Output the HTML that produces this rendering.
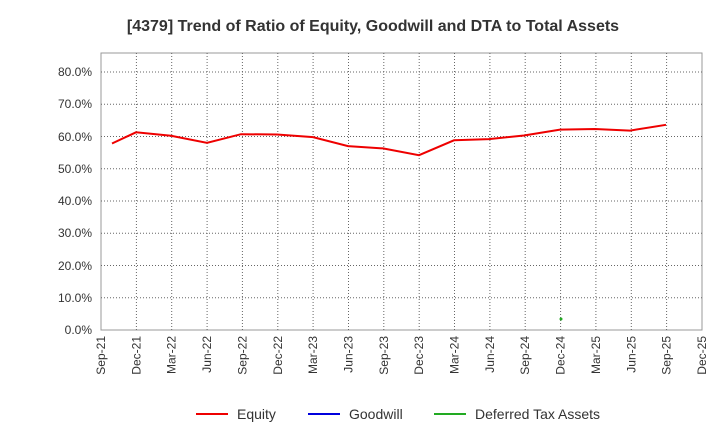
<!DOCTYPE html>
<html><head><meta charset="utf-8"><style>body{margin:0;background:#fff}svg{display:block}</style></head><body>
<svg width="720" height="440" xmlns="http://www.w3.org/2000/svg" font-family="Liberation Sans, sans-serif">
<text x="373" y="31" text-anchor="middle" font-size="16" font-weight="bold" fill="#333">[4379]  Trend of Ratio of Equity, Goodwill and DTA to Total Assets</text>
<rect x="101" y="53" width="601" height="277" fill="#fff" stroke="#999"/>
<g stroke="#666" stroke-dasharray="1,2" stroke-width="1">
<line x1="101" x2="702" y1="297.7" y2="297.7"/><line x1="101" x2="702" y1="265.5" y2="265.5"/><line x1="101" x2="702" y1="233.2" y2="233.2"/><line x1="101" x2="702" y1="201" y2="201"/><line x1="101" x2="702" y1="168.7" y2="168.7"/><line x1="101" x2="702" y1="136.5" y2="136.5"/><line x1="101" x2="702" y1="104.2" y2="104.2"/><line x1="101" x2="702" y1="72" y2="72"/>
<line x1="136.4" x2="136.4" y1="53" y2="330"/><line x1="171.7" x2="171.7" y1="53" y2="330"/><line x1="207.1" x2="207.1" y1="53" y2="330"/><line x1="242.4" x2="242.4" y1="53" y2="330"/><line x1="277.8" x2="277.8" y1="53" y2="330"/><line x1="313.1" x2="313.1" y1="53" y2="330"/><line x1="348.5" x2="348.5" y1="53" y2="330"/><line x1="383.8" x2="383.8" y1="53" y2="330"/><line x1="419.2" x2="419.2" y1="53" y2="330"/><line x1="454.5" x2="454.5" y1="53" y2="330"/><line x1="489.9" x2="489.9" y1="53" y2="330"/><line x1="525.2" x2="525.2" y1="53" y2="330"/><line x1="560.6" x2="560.6" y1="53" y2="330"/><line x1="595.9" x2="595.9" y1="53" y2="330"/><line x1="631.3" x2="631.3" y1="53" y2="330"/><line x1="666.6" x2="666.6" y1="53" y2="330"/>
</g>
<g font-size="12" fill="#333" text-anchor="end">
<text x="92" y="334">0.0%</text><text x="92" y="302">10.0%</text><text x="92" y="270">20.0%</text><text x="92" y="237">30.0%</text><text x="92" y="205">40.0%</text><text x="92" y="173">50.0%</text><text x="92" y="141">60.0%</text><text x="92" y="108">70.0%</text><text x="92" y="76">80.0%</text>
</g>
<g font-size="12" fill="#333" text-anchor="end">
<text transform="translate(105,336) rotate(-90)">Sep-21</text>
<text transform="translate(140.4,336) rotate(-90)">Dec-21</text>
<text transform="translate(175.7,336) rotate(-90)">Mar-22</text>
<text transform="translate(211.1,336) rotate(-90)">Jun-22</text>
<text transform="translate(246.4,336) rotate(-90)">Sep-22</text>
<text transform="translate(281.8,336) rotate(-90)">Dec-22</text>
<text transform="translate(317.1,336) rotate(-90)">Mar-23</text>
<text transform="translate(352.5,336) rotate(-90)">Jun-23</text>
<text transform="translate(387.8,336) rotate(-90)">Sep-23</text>
<text transform="translate(423.2,336) rotate(-90)">Dec-23</text>
<text transform="translate(458.5,336) rotate(-90)">Mar-24</text>
<text transform="translate(493.9,336) rotate(-90)">Jun-24</text>
<text transform="translate(529.2,336) rotate(-90)">Sep-24</text>
<text transform="translate(564.6,336) rotate(-90)">Dec-24</text>
<text transform="translate(599.9,336) rotate(-90)">Mar-25</text>
<text transform="translate(635.3,336) rotate(-90)">Jun-25</text>
<text transform="translate(670.6,336) rotate(-90)">Sep-25</text>
<text transform="translate(706,336) rotate(-90)">Dec-25</text>
</g>
<polyline fill="none" stroke="#e00" stroke-width="2" points="112,143.5 136,132.3 171,135.8 207,142.9 241,134.2 277,134.5 313,137.1 348,146.1 383,148.4 419,155.2 454,140.3 489,139.1 524,135.5 560,129.6 595,129 630,130.6 666,124.8"/>
<circle cx="561" cy="319" r="1.5" fill="#2a2"/>
<g font-size="14" fill="#333">
<line x1="196" x2="228" y1="414" y2="414" stroke="#e00" stroke-width="2"/><text x="237" y="419">Equity</text>
<line x1="308" x2="340" y1="414" y2="414" stroke="#00d" stroke-width="2"/><text x="349" y="419">Goodwill</text>
<line x1="434" x2="466" y1="414" y2="414" stroke="#2a2" stroke-width="2"/><text x="475" y="419">Deferred Tax Assets</text>
</g>
</svg>
</body></html>
